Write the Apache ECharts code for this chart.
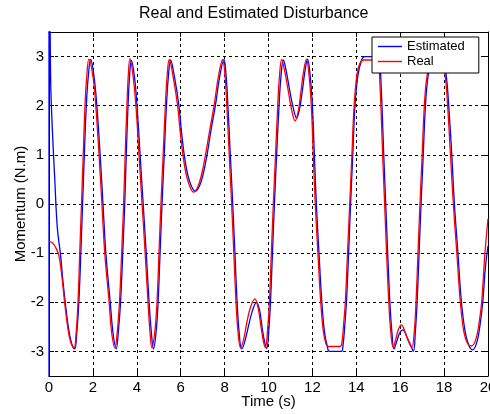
<!DOCTYPE html>
<html>
<head>
<meta charset="utf-8">
<script src="https://cdn.jsdelivr.net/npm/echarts@6/dist/echarts.min.js"></script>
<style>
  html, body { margin: 0; padding: 0; background: #fff; }
  #chart { width: 490px; height: 414px; }
</style>
</head>
<body>
<div id="chart"></div>
<script>
// Estimated disturbance: time (s) and momentum (N.m)
const estimatedTime = [
  0, 0, 0.05, 0.08, 0.15, 0.26, 0.38, 0.53, 0.62, 0.74, 0.88, 1.02, 1.17,
  1.27, 1.36, 1.45, 1.53, 1.61, 1.70, 1.79, 1.90,
  2.05, 2.18, 2.33, 2.46, 2.59, 2.79, 2.91, 3.06,
  3.16, 3.26, 3.36, 3.45, 3.52, 3.60, 3.67, 3.75,
  3.89, 4.01, 4.15, 4.29, 4.43, 4.56, 4.66, 4.76,
  4.88, 4.97, 5.06, 5.15, 5.25, 5.35, 5.44, 5.54,
  5.71, 5.92, 6.03, 6.16, 6.32, 6.49, 6.67,
  6.85, 7.02, 7.20, 7.38, 7.58, 7.78, 7.97,
  8.07, 8.15, 8.26, 8.37, 8.47, 8.57, 8.66, 8.78,
  8.92, 9.08, 9.25, 9.45, 9.59, 9.72, 9.83, 9.92,
  10.01, 10.09, 10.18, 10.27, 10.37, 10.48, 10.57, 10.68,
  10.81, 10.97, 11.13, 11.28, 11.42, 11.54, 11.66, 11.78,
  11.90, 12.00, 12.09, 12.18, 12.30, 12.43, 12.55, 12.68, 12.78, 13.32,
  13.40, 13.47, 13.55, 13.65, 13.74, 13.84, 13.94, 14.07, 14.22, 14.38, 14.95,
  15.08, 15.13, 15.17, 15.25, 15.34, 15.43, 15.53, 15.62, 15.72,
  15.84, 15.98, 16.12, 16.30, 16.48, 16.60,
  16.69, 16.77, 16.86, 16.95, 17.05, 17.15, 17.27, 17.45, 17.70, 17.95,
  18.10, 18.21, 18.35, 18.47, 18.63, 18.79, 18.96, 19.13, 19.30,
  19.50, 19.64, 19.76, 19.88, 20.00
];
const estimatedValue = [
  -5, 5, 3.6, 2.42, 1.54, 0.53, -0.49, -1.05, -1.5, -2.0, -2.5, -2.82, -2.95,
  -2.6, -2.0, -1.0, 0.0, 1.0, 2.0, 2.6, 2.94,
  2.6, 2.0, 1.0, 0.0, -1.0, -2.0, -2.6, -2.95,
  -2.6, -2.0, -1.0, 0.0, 1.0, 2.0, 2.6, 2.92,
  2.6, 2.0, 1.0, 0.0, -1.0, -2.0, -2.6, -2.95,
  -2.6, -2.0, -1.0, 0.0, 1.0, 2.0, 2.6, 2.93,
  2.6, 2.0, 1.5, 1.0, 0.6, 0.36, 0.26,
  0.36, 0.6, 1.0, 1.5, 2.0, 2.6, 2.94,
  2.6, 2.0, 1.0, 0.0, -1.0, -2.0, -2.6, -2.95,
  -2.8, -2.5, -2.2, -2.0, -2.15, -2.55, -2.82, -2.94,
  -2.6, -2.0, -1.0, 0.0, 1.0, 2.0, 2.6, 2.93,
  2.7, 2.3, 1.95, 1.75, 1.95, 2.3, 2.7, 2.95,
  2.6, 2.0, 1.0, 0.0, -1.0, -2.0, -2.6, -2.9, -3.0, -3.0,
  -2.85, -2.5, -2.0, -1.0, 0.0, 1.0, 2.0, 2.6, 2.9, 3.0, 3.0,
  2.8, 2.4, 2.0, 1.0, 0.0, -1.0, -2.0, -2.6, -2.95,
  -2.8, -2.62, -2.56, -2.7, -2.88, -3.0,
  -2.6, -2.0, -1.0, 0.0, 1.0, 2.0, 2.6, 2.92, 2.95, 2.92,
  2.6, 2.0, 1.0, 0.0, -1.0, -2.0, -2.6, -2.88, -2.97,
  -2.8, -2.45, -2.0, -1.3, -0.85
];

// Real disturbance: time (s) and momentum (N.m)
const realTime = [
  0, 0.15, 0.30, 0.45, 0.58, 0.71, 0.85, 0.98, 1.14,
  1.24, 1.32, 1.40, 1.48, 1.56, 1.64, 1.72, 1.82,
  2.00, 2.13, 2.28, 2.41, 2.54, 2.74, 2.85, 3.00,
  3.11, 3.21, 3.31, 3.40, 3.47, 3.55, 3.61, 3.69,
  3.83, 3.96, 4.10, 4.24, 4.38, 4.51, 4.60, 4.69,
  4.82, 4.92, 5.01, 5.10, 5.20, 5.30, 5.38, 5.48,
  5.65, 5.86, 5.97, 6.10, 6.25, 6.42, 6.59,
  6.78, 6.95, 7.13, 7.32, 7.52, 7.72, 7.91,
  8.02, 8.10, 8.21, 8.32, 8.42, 8.52, 8.61, 8.73,
  8.87, 9.02, 9.18, 9.38, 9.52, 9.66, 9.77, 9.86,
  9.95, 10.04, 10.13, 10.22, 10.32, 10.42, 10.50, 10.60,
  10.74, 10.90, 11.06, 11.21, 11.36, 11.48, 11.60, 11.73,
  11.85, 11.95, 12.04, 12.13, 12.25, 12.38, 12.50, 12.62, 12.72, 13.26,
  13.35, 13.43, 13.50, 13.60, 13.70, 13.80, 13.90, 14.02, 14.15, 14.35, 14.90,
  15.03, 15.08, 15.12, 15.20, 15.29, 15.38, 15.48, 15.57, 15.68,
  15.80, 15.92, 16.05, 16.22, 16.38, 16.53,
  16.64, 16.72, 16.81, 16.90, 17.00, 17.10, 17.22, 17.40, 17.65, 17.90,
  18.05, 18.16, 18.29, 18.42, 18.58, 18.74, 18.90, 19.08, 19.25,
  19.45, 19.60, 19.71, 19.86, 20.00
];
const realValue = [
  -0.76, -0.79, -0.88, -1.05, -1.45, -2.0, -2.5, -2.8, -2.93,
  -2.6, -2.0, -1.0, 0.0, 1.0, 2.0, 2.6, 2.95,
  2.6, 2.0, 1.0, 0.0, -1.0, -2.0, -2.6, -2.93,
  -2.6, -2.0, -1.0, 0.0, 1.0, 2.0, 2.6, 2.96,
  2.6, 2.0, 1.0, 0.0, -1.0, -2.0, -2.6, -2.93,
  -2.6, -2.0, -1.0, 0.0, 1.0, 2.0, 2.6, 2.94,
  2.6, 2.0, 1.5, 1.0, 0.6, 0.35, 0.24,
  0.35, 0.6, 1.0, 1.5, 2.0, 2.6, 2.94,
  2.6, 2.0, 1.0, 0.0, -1.0, -2.0, -2.6, -2.93,
  -2.75, -2.4, -2.1, -1.93, -2.1, -2.5, -2.8, -2.92,
  -2.6, -2.0, -1.0, 0.0, 1.0, 2.0, 2.6, 2.94,
  2.7, 2.3, 1.9, 1.69, 1.9, 2.3, 2.7, 2.95,
  2.6, 2.0, 1.0, 0.0, -1.0, -2.0, -2.6, -2.85, -2.9, -2.9,
  -2.8, -2.4, -2.0, -1.0, 0.0, 1.0, 2.0, 2.6, 2.85, 2.93, 2.93,
  2.75, 2.4, 2.0, 1.0, 0.0, -1.0, -2.0, -2.6, -2.92,
  -2.75, -2.55, -2.46, -2.6, -2.8, -2.92,
  -2.6, -2.0, -1.0, 0.0, 1.0, 2.0, 2.6, 2.9, 2.93, 2.9,
  2.6, 2.0, 1.0, 0.0, -1.0, -2.0, -2.6, -2.85, -2.89,
  -2.75, -2.4, -2.0, -1.0, -0.3
];

const xTicks = [0, 2, 4, 6, 8, 10, 12, 14, 16, 18, 20];
const yTicks = [-3, -2, -1, 0, 1, 2, 3];

const pair = (ts, vs) => ts.map((t, i) => [t, vs[i]]);

const FONT = '"Liberation Sans", Arial, sans-serif';
const gridDash = { color: '#000', type: [3, 3], width: 1 };
const lineIcon = 'path://M0,0H24V1.4H0Z';

const chart = echarts.init(document.getElementById('chart'), null, { renderer: 'canvas' });

const xBase = {
  type: 'value',
  min: xTicks[0],
  max: xTicks[xTicks.length - 1],
  interval: xTicks[1] - xTicks[0],
  axisLine: { show: true, onZero: false, lineStyle: { color: '#000', width: 1 } },
  axisTick: { show: true, inside: true, length: 5, lineStyle: { color: '#000' } }
};
const yBase = {
  type: 'value',
  min: -3.5,
  max: 3.5,
  minInterval: yTicks[1] - yTicks[0],
  maxInterval: yTicks[1] - yTicks[0],
  axisLine: { show: true, onZero: false, lineStyle: { color: '#000', width: 1 } },
  axisTick: { show: true, inside: true, length: 5, lineStyle: { color: '#000' } }
};

chart.setOption({
  animation: false,
  backgroundColor: '#fff',
  textStyle: { fontFamily: FONT },
  title: {
    text: 'Real and Estimated Disturbance',
    left: 139,
    top: 6,
    padding: 0,
    textStyle: { fontFamily: FONT, fontSize: 16, fontWeight: 'normal', color: '#000' }
  },
  legend: {
    data: [
      { name: 'Estimated', icon: lineIcon },
      { name: 'Real', icon: lineIcon }
    ],
    orient: 'vertical',
    left: 372,
    top: 37,
    padding: [3, 14, 5, 6],
    itemWidth: 24,
    itemHeight: 14,
    itemGap: 2,
    backgroundColor: '#fff',
    borderColor: '#000',
    borderWidth: 1,
    borderRadius: 0,
    textStyle: { fontFamily: FONT, fontSize: 13, color: '#000' }
  },
  grid: { left: 49, right: 2, top: 32, bottom: 38, show: false, outerBoundsMode: 'none' },
  xAxis: [
    Object.assign({}, xBase, {
      position: 'bottom',
      name: 'Time (s)',
      nameLocation: 'middle',
      nameGap: 18,
      nameMoveOverlap: false,
      nameTextStyle: { fontFamily: FONT, fontSize: 15, color: '#000' },
      axisLabel: { margin: 4, fontFamily: FONT, fontSize: 15, color: '#000' },
      splitLine: { show: true, lineStyle: gridDash }
    }),
    Object.assign({}, xBase, {
      position: 'top',
      axisLabel: { show: false },
      splitLine: { show: false }
    })
  ],
  yAxis: [
    Object.assign({}, yBase, {
      position: 'left',
      name: 'Momentum (N.m)',
      nameLocation: 'middle',
      nameGap: 21,
      nameMoveOverlap: false,
      nameTextStyle: { fontFamily: FONT, fontSize: 15, color: '#000' },
      axisLabel: {
        margin: 5, fontFamily: FONT, fontSize: 15, color: '#000',
        showMinLabel: false, showMaxLabel: false,
        formatter: v => (yTicks.indexOf(v) >= 0 ? String(v) : '')
      },
      splitLine: { show: true, lineStyle: gridDash }
    }),
    Object.assign({}, yBase, {
      position: 'right',
      axisLabel: { show: false },
      splitLine: { show: false }
    })
  ],
  series: [
    {
      name: 'Estimated',
      type: 'line',
      data: pair(estimatedTime, estimatedValue),
      showSymbol: false,
      symbol: 'none',
      smooth: 0.4,
      clip: true,
      lineStyle: { color: '#0000ff', width: 1.3 },
      itemStyle: { color: '#0000ff' }
    },
    {
      name: 'Real',
      type: 'line',
      data: pair(realTime, realValue),
      showSymbol: false,
      symbol: 'none',
      smooth: 0.4,
      clip: true,
      lineStyle: { color: '#ff0000', width: 1.3 },
      itemStyle: { color: '#ff0000' }
    }
  ]
});
</script>
</body>
</html>
